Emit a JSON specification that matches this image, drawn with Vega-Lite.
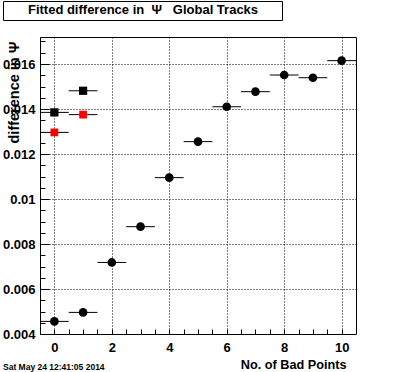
{
  "$schema": "https://vega.github.io/schema/vega-lite/v6.json",
  "width": 316,
  "height": 297,
  "autosize": "none",
  "padding": {"left": 40, "top": 37, "right": 40, "bottom": 38},
  "background": "white",
  "config": {
    "view": {"stroke": "black", "strokeWidth": 1},
    "font": "Liberation Sans"
  },
  "title": {
    "text": "Sat May 24 12:41:05 2014",
    "orient": "bottom",
    "anchor": "start",
    "frame": "group",
    "dx": -37,
    "offset": -8,
    "fontSize": 8.5,
    "fontWeight": "bold",
    "font": "Liberation Sans",
    "color": "black"
  },
  "data": {
    "values": [
      {"s": "circle", "x": 0, "y": 0.00456, "ex": 0.5, "ey": 0.00005},
      {"s": "circle", "x": 1, "y": 0.00496, "ex": 0.5, "ey": 0.00005},
      {"s": "circle", "x": 2, "y": 0.00718, "ex": 0.5, "ey": 0.00005},
      {"s": "circle", "x": 3, "y": 0.00877, "ex": 0.5, "ey": 0.00005},
      {"s": "circle", "x": 4, "y": 0.01095, "ex": 0.5, "ey": 0.00006},
      {"s": "circle", "x": 5, "y": 0.01255, "ex": 0.5, "ey": 0.00007},
      {"s": "circle", "x": 6, "y": 0.0141, "ex": 0.5, "ey": 0.00009},
      {"s": "circle", "x": 7, "y": 0.01477, "ex": 0.5, "ey": 0.00012},
      {"s": "circle", "x": 8, "y": 0.01551, "ex": 0.5, "ey": 0.00013},
      {"s": "circle", "x": 9, "y": 0.01539, "ex": 0.5, "ey": 0.00016},
      {"s": "circle", "x": 10, "y": 0.01615, "ex": 0.5, "ey": 0.00013},
      {"s": "black square", "x": 0, "y": 0.01385, "ex": 0.5, "ey": 0.00005},
      {"s": "black square", "x": 1, "y": 0.01481, "ex": 0.5, "ey": 0.00005},
      {"s": "red square", "x": 0, "y": 0.01296, "ex": 0.5, "ey": 0.00005},
      {"s": "red square", "x": 1, "y": 0.01375, "ex": 0.5, "ey": 0.00005}
    ]
  },
  "encoding": {
    "x": {
      "field": "x", "type": "quantitative",
      "title": "No. of Bad Points",
      "scale": {"domain": [-0.5, 10.5], "nice": false, "zero": false},
      "axis": {
        "values": [0, 0.5, 1, 1.5, 2, 2.5, 3, 3.5, 4, 4.5, 5, 5.5, 6, 6.5, 7, 7.5, 8, 8.5, 9, 9.5, 10],
        "labelExpr": "datum.value % 2 == 0 ? format(datum.value, 'd') : ''",
        "domain": false,
        "tickColor": "black",
        "tickSize": -5,
        "labelPadding": 12,
        "labelFont": "Liberation Sans",
        "labelFontWeight": "bold",
        "labelFontSize": 13,
        "labelColor": "black",
        "labelFlush": false,
        "grid": true,
        "gridColor": "black",
        "gridDash": [1, 2],
        "gridWidth": 1,
        "gridOpacity": {"condition": {"test": "datum.value % 2 == 0", "value": 1}, "value": 0},
        "titleFont": "Liberation Sans",
        "titleFontWeight": "bold",
        "titleFontSize": 12.7,
        "titleColor": "black",
        "titleAlign": "right",
        "titleBaseline": "alphabetic",
        "titleAnchor": "end",
        "titleX": 306,
        "titleY": 34
      }
    },
    "y": {
      "field": "y", "type": "quantitative",
      "title": "difference in Ψ",
      "scale": {"domain": [0.004, 0.0172], "nice": false, "zero": false},
      "axis": {
        "values": [0.004, 0.0045, 0.005, 0.0055, 0.006, 0.0065, 0.007, 0.0075, 0.008, 0.0085, 0.009, 0.0095, 0.01, 0.0105, 0.011, 0.0115, 0.012, 0.0125, 0.013, 0.0135, 0.014, 0.0145, 0.015, 0.0155, 0.016, 0.0165, 0.017],
        "labelExpr": "abs(datum.value*500 - round(datum.value*500)) < 0.01 ? format(datum.value, '~g') : ''",
        "domain": false,
        "tickColor": "black",
        "tickSize": {"condition": {"test": "abs(datum.value*500 - round(datum.value*500)) < 0.01", "value": -9}, "value": -5},
        "labelPadding": 14,
        "labelFont": "Liberation Sans",
        "labelFontWeight": "bold",
        "labelFontSize": 13,
        "labelColor": "black",
        "labelFlush": false,
        "grid": true,
        "gridColor": "black",
        "gridDash": [1, 2],
        "gridWidth": 1,
        "gridOpacity": {"condition": {"test": "abs(datum.value*500 - round(datum.value*500)) < 0.01 && datum.value > 0.0041", "value": 1}, "value": 0},
        "titleFont": "Liberation Sans",
        "titleFontWeight": "bold",
        "titleFontSize": 14.5,
        "titleColor": "black",
        "titleAngle": 270,
        "titleAlign": "right",
        "titleBaseline": "alphabetic",
        "titleAnchor": "end",
        "titleX": -22,
        "titleY": 4
      }
    }
  },
  "layer": [
    {
      "mark": {"type": "errorbar", "color": "black", "thickness": 1},
      "encoding": {
        "xError": {"field": "ex"}
      }
    },
    {
      "mark": {"type": "errorbar", "color": "black", "thickness": 1},
      "encoding": {
        "yError": {"field": "ey"}
      }
    },
    {
      "mark": {"type": "point", "filled": true, "opacity": 1},
      "encoding": {
        "color": {
          "field": "s", "type": "nominal",
          "scale": {"domain": ["circle", "black square", "red square"], "range": ["black", "black", "#ff0000"]},
          "legend": {
            "orient": "none",
            "legendX": -37,
            "legendY": -36,
            "values": ["circle"],
            "labelExpr": "''",
            "symbolSize": 0,
            "symbolOpacity": 0,
            "symbolStrokeWidth": 0,
            "symbolOffset": 264,
            "labelOffset": 0,
            "labelFontSize": 1,
            "title": "Fitted difference in\u00a0\u00a0Ψ\u00a0\u00a0\u00a0Global Tracks",
            "titleAnchor": "middle",
            "titleFont": "Liberation Sans",
            "titleFontWeight": "bold",
            "titleFontSize": 13,
            "titleColor": "black",
            "titlePadding": -9,
            "titleLimit": 400,
            "strokeColor": "black",
            "padding": 3
          }
        },
        "shape": {
          "field": "s", "type": "nominal",
          "scale": {"domain": ["circle", "black square", "red square"], "range": ["circle", "square", "square"]},
          "legend": null
        },
        "size": {
          "field": "s", "type": "nominal",
          "scale": {"domain": ["circle", "black square", "red square"], "range": [75, 60, 60]},
          "legend": null
        }
      }
    }
  ]
}
